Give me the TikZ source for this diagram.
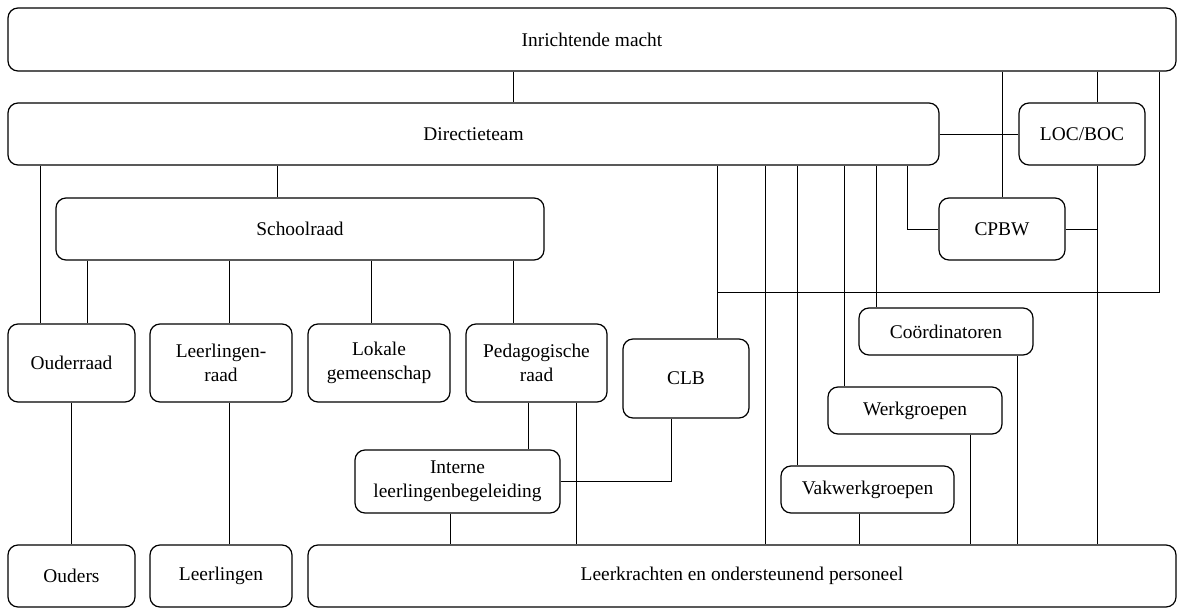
\documentclass[tikz,border=0pt]{standalone}
\usepackage{fontspec}
\setmainfont{Liberation Serif}

\begin{document}
\begin{tikzpicture}[x=1pt, y=-1pt,
  box/.style={draw, rounded corners=10pt, align=center, inner sep=0pt,
    line width=1.2pt, font=\fontsize{19.4}{24}\selectfont},
  link/.style={line width=1pt}]
  \useasboundingbox (0,0) rectangle (1178,608);

  % boxes
  \node[box, minimum width=1168pt, minimum height=63pt] (im) at (592,39.5) {Inrichtende macht};
  \node[box, minimum width=931pt, minimum height=62pt] (dt) at (473.5,134) {Directieteam};
  \node[box, minimum width=126pt, minimum height=62pt] (loc) at (1082,134) {LOC/BOC};
  \node[box, minimum width=488pt, minimum height=62pt] (sr) at (300,229) {Schoolraad};
  \node[box, minimum width=126pt, minimum height=62pt] (cpbw) at (1002,229) {CPBW};
  \node[box, minimum width=127pt, minimum height=78pt] (our) at (71.5,363) {Ouderraad};
  \node[box, minimum width=142pt, minimum height=78pt] (llr) at (221,363) {Leerlingen-\\raad};
  \node[box, minimum width=142pt, minimum height=78pt] (lok) at (379,363) {Lokale\\gemeenschap};
  \node[box, minimum width=141pt, minimum height=78pt] (ped) at (536.5,363) {Pedagogische\\raad};
  \node[box, minimum width=126pt, minimum height=79pt] (clb) at (686,378.5) {CLB};
  \node[box, minimum width=174pt, minimum height=47pt] (coo) at (946,331.5) {Coördinatoren};
  \node[box, minimum width=174pt, minimum height=47pt] (wg) at (915,410.5) {Werkgroepen};
  \node[box, minimum width=173pt, minimum height=47pt] (vwg) at (867.5,489.5) {Vakwerkgroepen};
  \node[box, minimum width=205pt, minimum height=63pt] (ilb) at (457.5,481.5) {Interne\\leerlingenbegeleiding};
  \node[box, minimum width=127pt, minimum height=62pt] (ouders) at (71.5,576) {Ouders};
  \node[box, minimum width=142pt, minimum height=62pt] (ll) at (221,576) {Leerlingen};
  \node[box, minimum width=868pt, minimum height=62pt] (lk) at (742,576) {Leerkrachten en ondersteunend personeel};

  % x positions of the vertical lines
  \coordinate (c-our) at (40,0);
  \coordinate (c-sour) at (87,0);
  \coordinate (c-llr) at (229,0);
  \coordinate (c-sr) at (277,0);
  \coordinate (c-lok) at (371,0);
  \coordinate (c-ilk) at (450,0);
  \coordinate (c-ped) at (513,0);
  \coordinate (c-ilb) at (528,0);
  \coordinate (c-plk) at (576,0);
  \coordinate (c-clb) at (671,0);
  \coordinate (c-bus) at (717,0);
  \coordinate (c-dlk) at (765,0);
  \coordinate (c-vwg) at (797,0);
  \coordinate (c-wg) at (844,0);
  \coordinate (c-vlk) at (859,0);
  \coordinate (c-coo) at (876,0);
  \coordinate (c-cpbw) at (907,0);
  \coordinate (c-wlk) at (970,0);
  \coordinate (c-clk) at (1017,0);
  \coordinate (c-loc) at (1097,0);
  \coordinate (bus) at (1159,292);

  % Inrichtende macht
  \draw[link] (im.south -| c-ped) -- (dt.north -| c-ped);
  \draw[link] (im.south -| cpbw.north) -- (cpbw.north);
  \draw[link] (im.south -| c-loc) -- (loc.north -| c-loc);
  \draw[link] (im.south -| bus) -- (bus) -- (bus -| c-bus);

  % Directieteam
  \draw[link] (dt) -- (loc);
  \draw[link] (dt.south -| c-our) -- (our.north -| c-our);
  \draw[link] (dt.south -| c-sr) -- (sr.north -| c-sr);
  \draw[link] (dt.south -| c-bus) -- (clb.north -| c-bus);
  \draw[link] (dt.south -| c-dlk) -- (lk.north -| c-dlk);
  \draw[link] (dt.south -| c-vwg) -- (vwg.north -| c-vwg);
  \draw[link] (dt.south -| c-wg) -- (wg.north -| c-wg);
  \draw[link] (dt.south -| c-coo) -- (coo.north -| c-coo);
  \draw[link] (dt.south -| c-cpbw) |- (cpbw.west);

  % LOC/BOC and CPBW
  \draw[link] (loc.south -| c-loc) -- (lk.north -| c-loc);
  \draw[link] (cpbw.east) -- (cpbw.east -| c-loc);

  % Schoolraad
  \draw[link] (sr.south -| c-sour) -- (our.north -| c-sour);
  \draw[link] (sr.south -| c-llr) -- (llr.north -| c-llr);
  \draw[link] (sr.south -| c-lok) -- (lok.north -| c-lok);
  \draw[link] (sr.south -| c-ped) -- (ped.north -| c-ped);

  % lower levels
  \draw[link] (our) -- (ouders);
  \draw[link] (llr.south -| c-llr) -- (ll.north -| c-llr);
  \draw[link] (ped.south -| c-ilb) -- (ilb.north -| c-ilb);
  \draw[link] (ped.south -| c-plk) -- (lk.north -| c-plk);
  \draw[link] (ilb.south -| c-ilk) -- (lk.north -| c-ilk);
  \draw[link] (ilb.east) -| (clb.south -| c-clb);
  \draw[link] (vwg.south -| c-vlk) -- (lk.north -| c-vlk);
  \draw[link] (wg.south -| c-wlk) -- (lk.north -| c-wlk);
  \draw[link] (coo.south -| c-clk) -- (lk.north -| c-clk);
\end{tikzpicture}
\end{document}
